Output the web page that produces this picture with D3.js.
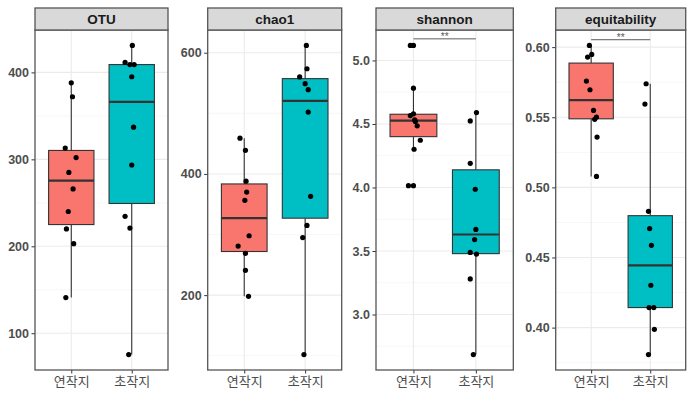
<!DOCTYPE html>
<html>
<head>
<meta charset="utf-8">
<script src="https://cdn.jsdelivr.net/npm/d3@7"></script>
<style>
  body { margin: 0; background: #fff; }
  text { font-family: "Liberation Sans", Arial, sans-serif; }
</style>
</head>
<body>
<svg id="chart" width="698" height="404"></svg>
<script>
var groups = ["연작지", "초작지"];
var metrics = ["OTU", "chao1", "shannon", "equitability"];
var groupColors = ["#F8766D", "#00BFC4"];

// values
var otuYeon = [388, 372, 313, 302, 285, 266, 240, 220, 203, 141];
var otuCho = [431, 411.5, 409, 409, 395, 337, 293.5, 234.5, 221, 75.5];
var chao1Yeon = [459, 439, 388, 370, 356.5, 298, 281, 269, 241, 198];
var chao1Cho = [612, 573.6, 560, 549, 539, 502, 363, 315, 295, 102];
var shannonYeon = [5.118, 4.782, 4.58, 4.566, 4.532, 4.52, 4.485, 4.372, 4.301, 4.014];
var shannonCho = [4.59, 4.524, 4.19, 3.986, 3.67, 3.59, 3.489, 3.476, 3.28, 2.685];
var equitYeon = [0.6012, 0.5948, 0.5929, 0.5758, 0.5696, 0.5549, 0.5501, 0.5485, 0.5359, 0.5078];
var equitCho = [0.5739, 0.5594, 0.4829, 0.4706, 0.4587, 0.4302, 0.4143, 0.4143, 0.3988, 0.3808];

// horizontal jitter of each point, in category units (as seen in the picture)
var otuYeonJit = [0, 0.02, -0.10, 0.08, -0.04, 0.03, -0.05, -0.08, 0.04, -0.09];
var otuChoJit = [0.01, -0.11, -0.03, 0.04, 0, 0.03, 0, -0.11, -0.03, -0.05];
var chao1YeonJit = [-0.07, 0.02, 0.03, 0.04, 0.01, 0.08, -0.10, 0.02, 0.02, 0.07];
var chao1ChoJit = [0.02, 0.03, -0.09, 0, 0.05, 0.05, 0.09, 0.03, -0.04, -0.02];
var shannonYeonJit = [-0.05, 0, 0, -0.05, 0.02, 0.03, 0.06, 0.11, 0.01, -0.08];
var shannonChoJit = [0.01, -0.09, -0.09, -0.01, 0, -0.02, -0.09, 0.01, -0.09, -0.04];
var equitYeonJit = [-0.03, 0.01, -0.06, -0.08, -0.02, 0.04, 0.09, 0.06, 0.10, 0.09];
var equitChoJit = [-0.07, -0.09, -0.03, -0.01, 0.02, 0.01, -0.02, 0.06, 0.07, -0.03];

// tick labels
var otuTicks = [100, 200, 300, 400];
var chao1Ticks = [200, 400, 600];
var shannonTicks = [3.0, 3.5, 4.0, 4.5, 5.0];
var equitTicks = [0.40, 0.45, 0.50, 0.55, 0.60];

// significance annotation
var sigLabels = ["", "", "**", "**"];
var sigLevels = [null, null, 5.17, 0.6053];

var panels = [
  { name: metrics[0], series: [otuYeon, otuCho], jit: [otuYeonJit, otuChoJit], ticks: otuTicks, fmt: d3.format("d") },
  { name: metrics[1], series: [chao1Yeon, chao1Cho], jit: [chao1YeonJit, chao1ChoJit], ticks: chao1Ticks, fmt: d3.format("d") },
  { name: metrics[2], series: [shannonYeon, shannonCho], jit: [shannonYeonJit, shannonChoJit], ticks: shannonTicks, fmt: d3.format(".1f") },
  { name: metrics[3], series: [equitYeon, equitCho], jit: [equitYeonJit, equitChoJit], ticks: equitTicks, fmt: d3.format(".2f") }
];

// layout
var panelLeft = [35, 207.7, 376, 555.7];
var panelRight = [168, 341.7, 513.3, 685.7];
var stripTop = 8, plotTop = 30, plotBottom = 370;
var lineCol = "#333333";

var svg = d3.select("#chart");

function boxStats(vals) {
  var s = vals.slice().sort(d3.ascending);
  var q1 = d3.quantile(s, 0.25), med = d3.quantile(s, 0.5), q3 = d3.quantile(s, 0.75);
  var iqr = q3 - q1;
  var inside = s.filter(function (v) { return v >= q1 - 1.5 * iqr && v <= q3 + 1.5 * iqr; });
  return {
    q1: q1, med: med, q3: q3,
    lo: d3.min(inside), hi: d3.max(inside),
    out: s.filter(function (v) { return v < q1 - 1.5 * iqr || v > q3 + 1.5 * iqr; })
  };
}

panels.forEach(function (p, i) {
  var g = svg.append("g").attr("class", "panel");
  var x = d3.scaleLinear().domain([0.4, 2.6]).range([panelLeft[i], panelRight[i]]);
  var ext = d3.extent(p.series[0].concat(p.series[1]));
  var pad = (ext[1] - ext[0]) * 0.05;
  var y = d3.scaleLinear().domain([ext[0] - pad, ext[1] + pad]).range([plotBottom, plotTop]);

  // grid: minor halfway between majors
  var step = p.ticks[1] - p.ticks[0];
  var minor = [p.ticks[0] - step / 2].concat(p.ticks.map(function (t) { return t + step / 2; }))
    .filter(function (t) { return t > y.domain()[0] && t < y.domain()[1]; });
  g.selectAll("line.minor").data(minor).enter().append("line")
    .attr("x1", panelLeft[i]).attr("x2", panelRight[i])
    .attr("y1", y).attr("y2", y)
    .attr("stroke", "#F2F2F2").attr("stroke-width", 0.6);
  g.selectAll("line.major").data(p.ticks).enter().append("line")
    .attr("x1", panelLeft[i]).attr("x2", panelRight[i])
    .attr("y1", y).attr("y2", y)
    .attr("stroke", "#EBEBEB").attr("stroke-width", 1.1);
  g.selectAll("line.vmajor").data([1, 2]).enter().append("line")
    .attr("x1", x).attr("x2", x)
    .attr("y1", plotTop).attr("y2", plotBottom)
    .attr("stroke", "#EBEBEB").attr("stroke-width", 1.1);

  // boxplots
  p.series.forEach(function (vals, k) {
    var st = boxStats(vals);
    var cx = x(k + 1), half = (x(1.375) - x(1));
    var bg = g.append("g");
    bg.append("line").attr("x1", cx).attr("x2", cx).attr("y1", y(st.hi)).attr("y2", y(st.q3))
      .attr("stroke", lineCol).attr("stroke-width", 1.1);
    bg.append("line").attr("x1", cx).attr("x2", cx).attr("y1", y(st.q1)).attr("y2", y(st.lo))
      .attr("stroke", lineCol).attr("stroke-width", 1.1);
    bg.append("rect")
      .attr("x", cx - half).attr("width", half * 2)
      .attr("y", y(st.q3)).attr("height", y(st.q1) - y(st.q3))
      .attr("fill", groupColors[k]).attr("stroke", lineCol).attr("stroke-width", 1.1);
    bg.append("line").attr("x1", cx - half).attr("x2", cx + half)
      .attr("y1", y(st.med)).attr("y2", y(st.med))
      .attr("stroke", lineCol).attr("stroke-width", 2.2);
    bg.selectAll("circle").data(st.out).enter().append("circle")
      .attr("cx", cx).attr("cy", y).attr("r", 2.6).attr("fill", "#000");
  });

  // jittered points
  p.series.forEach(function (vals, k) {
    g.selectAll("circle.pt" + k).data(vals).enter().append("circle")
      .attr("class", "pt" + k)
      .attr("cx", function (d, j) { return x(k + 1 + p.jit[k][j]); })
      .attr("cy", y).attr("r", 2.6).attr("fill", "#000");
  });

  // significance bar
  if (sigLevels[i] !== null) {
    g.append("line").attr("x1", x(1)).attr("x2", x(2))
      .attr("y1", y(sigLevels[i])).attr("y2", y(sigLevels[i]))
      .attr("stroke", "#333").attr("stroke-width", 0.8);
    g.append("text").attr("x", x(1.5)).attr("y", y(sigLevels[i]) + 1)
      .attr("text-anchor", "middle").attr("font-size", 10).attr("fill", "#555")
      .text(sigLabels[i]);
  }

  // y axis
  var ya = g.append("g").attr("transform", "translate(" + panelLeft[i] + ",0)")
    .call(d3.axisLeft(y).tickValues(p.ticks).tickFormat(p.fmt).tickSize(3.5).tickPadding(2.5));
  ya.select(".domain").remove();
  ya.selectAll(".tick line").attr("stroke", lineCol);
  ya.selectAll(".tick text").attr("fill", "#4D4D4D").attr("font-size", 12.5)
    .attr("font-weight", "bold").style("font-family", "'Liberation Sans', Arial, sans-serif");

  // x axis
  var xa = g.append("g").attr("transform", "translate(0," + plotBottom + ")")
    .call(d3.axisBottom(x).tickValues([1, 2]).tickFormat(function (d) { return groups[d - 1]; })
      .tickSize(3.5).tickPadding(3));
  xa.select(".domain").remove();
  xa.selectAll(".tick line").attr("stroke", lineCol);
  xa.selectAll(".tick text").attr("fill", "#4D4D4D").attr("font-size", 13)
    .style("font-family", "'Noto Sans CJK KR', sans-serif");

  // panel border and strip
  g.append("rect").attr("x", panelLeft[i]).attr("y", plotTop)
    .attr("width", panelRight[i] - panelLeft[i]).attr("height", plotBottom - plotTop)
    .attr("fill", "none").attr("stroke", "#555").attr("stroke-width", 1.3);
  g.append("rect").attr("x", panelLeft[i]).attr("y", stripTop)
    .attr("width", panelRight[i] - panelLeft[i]).attr("height", plotTop - stripTop)
    .attr("fill", "#D9D9D9").attr("stroke", "#555").attr("stroke-width", 1.3);
  g.append("text").attr("x", (panelLeft[i] + panelRight[i]) / 2).attr("y", (stripTop + plotTop) / 2 + 5)
    .attr("text-anchor", "middle").attr("font-size", 13.5).attr("font-weight", "bold")
    .attr("fill", "#1A1A1A").text(p.name);
});
</script>
</body>
</html>
